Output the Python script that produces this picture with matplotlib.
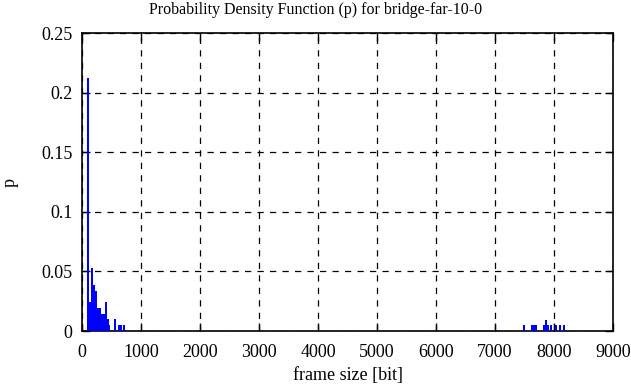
import matplotlib
matplotlib.use('Agg')
import matplotlib.pyplot as plt
import numpy as np

#######################################################################
#                                Data                                 #
#######################################################################
bin_width = 34  # bits per histogram bin

# low frame sizes (left edge of each bin, bit) and probabilities
low_edges = [85, 119, 153, 187, 221, 255, 289, 323, 357, 391,
             425, 442, 543, 611, 645, 696]
low_p = [0.212, 0.0243, 0.0528, 0.0388, 0.0333, 0.0193, 0.0193, 0.0145,
         0.0145, 0.0243, 0.0098, 0.0053, 0.0098, 0.0053, 0.0053, 0.0053]

# high frame sizes
high_edges = [7475, 7610, 7644, 7678, 7814, 7847, 7881, 7932, 8017,
              8085, 8153]
high_p = [0.0053, 0.0053, 0.0053, 0.0053, 0.0053, 0.0092, 0.0053,
          0.0053, 0.0053, 0.0053, 0.0053]

xticks = np.arange(0, 9001, 1000)
yticks = [0, 0.05, 0.1, 0.15, 0.2, 0.25]
ytick_labels = ['0', '0.05', '0.1', '0.15', '0.2', '0.25']

#######################################################################
#                                Plot                                 #
#######################################################################
plt.rcParams['font.family'] = ['Liberation Serif', 'DejaVu Serif']
plt.rcParams['font.size'] = 13

fig = plt.figure(figsize=(6.31, 3.87), dpi=100)
ax = fig.add_axes([0.130, 0.1447, 0.8415, 0.770])

edges = low_edges + high_edges
probs = low_p + high_p
ax.bar(edges, probs, width=bin_width, align='edge', color='#0000ff',
       linewidth=0, zorder=3)

ax.set_xlim(0, 9000)
ax.set_ylim(0, 0.25)
ax.set_xticks(xticks)
ax.set_yticks(yticks)
ax.set_yticklabels(ytick_labels)

ax.grid(True, color='black', linestyle=(0, (5, 5)), linewidth=0.9)
ax.set_axisbelow(True)
ax.tick_params(direction='in', top=True, right=True, length=6, width=1)
ax.tick_params(axis='x', pad=9)
ax.tick_params(axis='y', pad=7)
for sp in ax.spines.values():
    sp.set_linewidth(1.2)

# title is centred on the whole figure, not on the axes
fig.text(0.5, 0.974, 'Probability Density Function (p) for bridge-far-10-0',
         fontsize=11.5, ha='center', va='center')
ax.set_xlabel('frame size [bit]', labelpad=5)
ax.set_ylabel('p', labelpad=16)

fig.savefig('out.png', dpi=100)
